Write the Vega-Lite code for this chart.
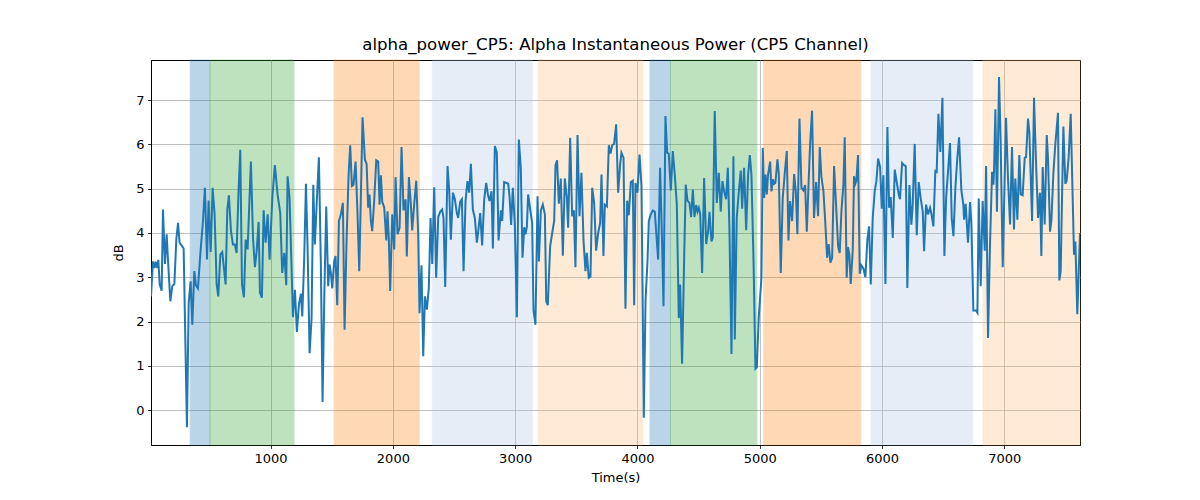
{
  "$schema": "https://vega.github.io/schema/vega-lite/v6.json",
  "width": 929,
  "height": 385,
  "autosize": {"type": "none"},
  "padding": {"left": 151, "top": 60, "right": 120, "bottom": 55},
  "background": "white",
  "title": {"text": "alpha_power_CP5: Alpha Instantaneous Power (CP5 Channel)", "font": "DejaVu Sans", "fontSize": 16.6, "fontWeight": "normal", "color": "black", "offset": 6},
  "config": {
    "view": {"stroke": "black", "strokeWidth": 1},
    "axis": {
      "labelFont": "DejaVu Sans", "labelFontSize": 13, "labelColor": "black",
      "titleFont": "DejaVu Sans", "titleFontSize": 13, "titleFontWeight": "normal", "titleColor": "black",
      "domainColor": "black", "domainWidth": 1, "tickColor": "black", "tickSize": 3.5, "tickWidth": 0.8, "labelPadding": 3.5,
      "grid": true, "gridColor": "#b0b0b0", "gridWidth": 0.8, "zindex": 1
    }
  },
  "datasets": {
    "bands": [
      {"start": 343, "end": 504, "kind": "blue"},
      {"start": 504, "end": 1191, "kind": "green"},
      {"start": 1520, "end": 2215, "kind": "orange"},
      {"start": 2322, "end": 3139, "kind": "lightblue"},
      {"start": 3188, "end": 4044, "kind": "lightorange"},
      {"start": 4103, "end": 4270, "kind": "blue"},
      {"start": 4270, "end": 4976, "kind": "green"},
      {"start": 5033, "end": 5826, "kind": "orange"},
      {"start": 5911, "end": 6742, "kind": "lightblue"},
      {"start": 6826, "end": 7619, "kind": "lightorange"}
    ],
    "power": [
      {"t":22,"db":2.57},{"t":38,"db":3.36},{"t":49,"db":3.21},{"t":60,"db":3.35},{"t":71,"db":3.21},{"t":82,"db":3.39},{"t":93,"db":2.84},{"t":109,"db":2.70},{"t":120,"db":4.53},{"t":136,"db":3.30},{"t":150,"db":3.97},{"t":163,"db":3.29},{"t":180,"db":2.46},{"t":196,"db":2.80},{"t":213,"db":2.85},{"t":229,"db":3.85},{"t":243,"db":4.23},{"t":256,"db":3.78},{"t":272,"db":3.72},{"t":289,"db":3.65},{"t":316,"db":-0.38},{"t":330,"db":2.42},{"t":346,"db":2.91},{"t":360,"db":1.93},{"t":376,"db":3.14},{"t":390,"db":2.82},{"t":406,"db":2.75},{"t":425,"db":3.51},{"t":447,"db":4.27},{"t":463,"db":5.02},{"t":480,"db":3.40},{"t":493,"db":4.73},{"t":510,"db":3.57},{"t":526,"db":5.02},{"t":542,"db":4.42},{"t":559,"db":2.84},{"t":572,"db":2.57},{"t":589,"db":3.51},{"t":605,"db":3.57},{"t":632,"db":2.84},{"t":646,"db":4.53},{"t":659,"db":4.85},{"t":676,"db":4.04},{"t":692,"db":3.74},{"t":708,"db":3.74},{"t":722,"db":3.55},{"t":736,"db":4.79},{"t":752,"db":5.88},{"t":766,"db":2.84},{"t":782,"db":2.55},{"t":796,"db":3.85},{"t":812,"db":3.63},{"t":839,"db":5.61},{"t":856,"db":3.89},{"t":872,"db":3.23},{"t":886,"db":3.59},{"t":902,"db":4.25},{"t":913,"db":2.65},{"t":929,"db":2.54},{"t":943,"db":4.51},{"t":959,"db":3.78},{"t":976,"db":4.42},
      {"t":992,"db":3.40},{"t":1014,"db":4.79},{"t":1035,"db":5.53},{"t":1057,"db":4.87},{"t":1079,"db":4.45},{"t":1095,"db":3.10},{"t":1112,"db":3.55},{"t":1128,"db":2.82},{"t":1139,"db":5.28},{"t":1155,"db":4.79},{"t":1183,"db":2.10},{"t":1199,"db":2.72},{"t":1215,"db":1.77},{"t":1232,"db":2.39},{"t":1248,"db":2.63},{"t":1259,"db":2.12},{"t":1275,"db":3.44},{"t":1289,"db":5.11},{"t":1302,"db":3.74},{"t":1319,"db":1.29},{"t":1335,"db":2.08},{"t":1349,"db":5.09},{"t":1362,"db":3.74},{"t":1379,"db":4.79},{"t":1395,"db":5.71},{"t":1411,"db":3.29},{"t":1425,"db":0.19},{"t":1439,"db":2.54},{"t":1455,"db":4.60},{"t":1471,"db":2.80},{"t":1482,"db":3.29},{"t":1493,"db":3.10},{"t":1504,"db":2.75},{"t":1520,"db":3.36},{"t":1531,"db":3.48},{"t":1545,"db":2.37},{"t":1559,"db":4.27},{"t":1575,"db":4.42},{"t":1591,"db":4.68},{"t":1605,"db":1.82},{"t":1621,"db":3.81},{"t":1638,"db":5.32},{"t":1651,"db":5.98},{"t":1665,"db":5.06},{"t":1678,"db":5.09},{"t":1695,"db":5.61},{"t":1711,"db":4.42},{"t":1725,"db":3.14},{"t":1738,"db":4.79},{"t":1752,"db":6.61},{"t":1771,"db":5.66},{"t":1785,"db":5.56},{"t":1798,"db":4.57},{"t":1809,"db":4.87},{"t":1820,"db":4.27},{"t":1831,"db":4.04},{"t":1847,"db":4.72},{"t":1864,"db":5.64},{"t":1880,"db":5.61},{"t":1891,"db":4.64},{"t":1902,"db":5.30},{"t":1913,"db":4.70},{"t":1929,"db":4.58},
      {"t":1946,"db":3.83},{"t":1956,"db":4.49},{"t":1967,"db":3.85},{"t":1978,"db":2.69},{"t":1995,"db":4.42},{"t":2011,"db":3.63},{"t":2022,"db":5.26},{"t":2038,"db":3.97},{"t":2055,"db":4.12},{"t":2071,"db":5.94},{"t":2087,"db":4.51},{"t":2104,"db":4.76},{"t":2114,"db":3.47},{"t":2131,"db":5.26},{"t":2147,"db":4.64},{"t":2158,"db":4.06},{"t":2174,"db":4.64},{"t":2191,"db":5.18},{"t":2207,"db":3.97},{"t":2218,"db":2.19},{"t":2234,"db":3.27},{"t":2248,"db":1.22},{"t":2262,"db":2.57},{"t":2278,"db":2.27},{"t":2294,"db":2.76},{"t":2308,"db":4.34},{"t":2322,"db":3.30},{"t":2338,"db":5.03},{"t":2354,"db":2.99},{"t":2371,"db":4.36},{"t":2387,"db":4.48},{"t":2403,"db":4.53},{"t":2414,"db":4.34},{"t":2428,"db":2.78},{"t":2447,"db":5.51},{"t":2461,"db":4.94},{"t":2474,"db":3.85},{"t":2491,"db":4.91},{"t":2507,"db":4.76},{"t":2523,"db":4.45},{"t":2534,"db":4.34},{"t":2550,"db":4.70},{"t":2564,"db":4.76},{"t":2578,"db":3.14},{"t":2594,"db":4.72},{"t":2610,"db":5.17},{"t":2624,"db":4.91},{"t":2638,"db":5.56},{"t":2654,"db":4.53},{"t":2670,"db":4.34},{"t":2687,"db":3.78},{"t":2698,"db":4.04},{"t":2714,"db":4.45},{"t":2730,"db":3.72},{"t":2747,"db":4.76},{"t":2763,"db":5.13},{"t":2777,"db":4.87},{"t":2790,"db":4.72},{"t":2807,"db":4.94},{"t":2818,"db":3.65},{"t":2834,"db":5.96},{"t":2850,"db":5.81},{"t":2864,"db":3.83},
      {"t":2883,"db":4.51},{"t":2894,"db":4.27},{"t":2910,"db":5.15},{"t":2927,"db":5.13},{"t":2943,"db":5.11},{"t":2954,"db":4.83},{"t":2967,"db":4.18},{"t":2981,"db":5.02},{"t":2997,"db":4.19},{"t":3014,"db":2.10},{"t":3030,"db":6.11},{"t":3046,"db":5.47},{"t":3060,"db":3.44},{"t":3074,"db":4.13},{"t":3085,"db":3.97},{"t":3096,"db":4.15},{"t":3106,"db":4.87},{"t":3123,"db":4.53},{"t":3139,"db":4.23},{"t":3150,"db":2.25},{"t":3166,"db":1.93},{"t":3183,"db":4.83},{"t":3194,"db":3.36},{"t":3210,"db":4.51},{"t":3226,"db":4.64},{"t":3243,"db":4.42},{"t":3254,"db":2.46},{"t":3267,"db":2.37},{"t":3286,"db":3.70},{"t":3303,"db":4.00},{"t":3319,"db":4.27},{"t":3330,"db":5.53},{"t":3343,"db":5.64},{"t":3357,"db":4.66},{"t":3373,"db":5.23},{"t":3390,"db":3.49},{"t":3406,"db":5.23},{"t":3423,"db":4.79},{"t":3433,"db":4.12},{"t":3450,"db":6.15},{"t":3466,"db":4.38},{"t":3480,"db":4.51},{"t":3493,"db":3.23},{"t":3510,"db":6.21},{"t":3526,"db":4.38},{"t":3542,"db":5.36},{"t":3559,"db":3.83},{"t":3575,"db":3.14},{"t":3586,"db":3.55},{"t":3602,"db":2.99},{"t":3616,"db":3.02},{"t":3630,"db":5.02},{"t":3646,"db":4.68},{"t":3662,"db":3.60},{"t":3679,"db":4.00},{"t":3695,"db":4.23},{"t":3706,"db":5.32},{"t":3722,"db":3.48},{"t":3733,"db":4.64},{"t":3750,"db":4.60},{"t":3766,"db":5.98},{"t":3780,"db":5.79},{"t":3793,"db":5.98},
      {"t":3809,"db":6.01},{"t":3826,"db":6.45},{"t":3842,"db":4.91},{"t":3859,"db":5.56},{"t":3869,"db":5.81},{"t":3886,"db":5.70},{"t":3902,"db":2.29},{"t":3916,"db":4.73},{"t":3929,"db":4.40},{"t":3946,"db":5.15},{"t":3962,"db":5.18},{"t":3973,"db":2.37},{"t":3984,"db":5.13},{"t":4000,"db":4.91},{"t":4017,"db":5.77},{"t":4033,"db":5.06},{"t":4052,"db":-0.17},{"t":4066,"db":2.46},{"t":4082,"db":3.36},{"t":4093,"db":4.27},{"t":4109,"db":4.42},{"t":4126,"db":4.51},{"t":4142,"db":4.48},{"t":4169,"db":3.40},{"t":4185,"db":5.47},{"t":4202,"db":3.74},{"t":4213,"db":2.35},{"t":4229,"db":6.64},{"t":4243,"db":5.81},{"t":4256,"db":5.79},{"t":4273,"db":4.96},{"t":4289,"db":5.85},{"t":4305,"db":5.32},{"t":4322,"db":4.64},{"t":4338,"db":2.08},{"t":4349,"db":2.84},{"t":4365,"db":1.05},{"t":4382,"db":3.44},{"t":4395,"db":5.09},{"t":4409,"db":4.73},{"t":4425,"db":4.68},{"t":4439,"db":4.36},{"t":4453,"db":4.98},{"t":4466,"db":4.36},{"t":4480,"db":4.63},{"t":4491,"db":4.48},{"t":4502,"db":4.57},{"t":4513,"db":4.43},{"t":4529,"db":3.10},{"t":4545,"db":5.24},{"t":4562,"db":3.75},{"t":4578,"db":4.04},{"t":4589,"db":4.48},{"t":4605,"db":3.81},{"t":4616,"db":3.89},{"t":4632,"db":6.75},{"t":4649,"db":4.68},{"t":4665,"db":5.36},{"t":4681,"db":4.48},{"t":4695,"db":5.17},{"t":4709,"db":4.94},{"t":4725,"db":4.76},{"t":4739,"db":5.47},{"t":4752,"db":4.12},{"t":4769,"db":1.27},
      {"t":4785,"db":5.73},{"t":4796,"db":1.60},{"t":4812,"db":4.34},{"t":4829,"db":4.94},{"t":4845,"db":5.41},{"t":4856,"db":4.55},{"t":4872,"db":5.47},{"t":4889,"db":4.06},{"t":4905,"db":5.32},{"t":4919,"db":5.76},{"t":4932,"db":5.32},{"t":4949,"db":3.40},{"t":4965,"db":0.94},{"t":4976,"db":0.97},{"t":4992,"db":2.10},{"t":5014,"db":2.99},{"t":5025,"db":5.92},{"t":5036,"db":4.79},{"t":5047,"db":5.32},{"t":5058,"db":4.87},{"t":5068,"db":5.32},{"t":5085,"db":5.61},{"t":5096,"db":4.94},{"t":5107,"db":5.21},{"t":5117,"db":5.11},{"t":5128,"db":5.13},{"t":5145,"db":5.66},{"t":5156,"db":5.33},{"t":5172,"db":3.10},{"t":5188,"db":4.79},{"t":5205,"db":5.36},{"t":5221,"db":5.85},{"t":5235,"db":3.83},{"t":5248,"db":4.72},{"t":5265,"db":4.27},{"t":5281,"db":5.33},{"t":5295,"db":4.94},{"t":5308,"db":3.97},{"t":5325,"db":6.58},{"t":5341,"db":5.02},{"t":5357,"db":4.96},{"t":5371,"db":5.08},{"t":5385,"db":4.03},{"t":5401,"db":5.24},{"t":5412,"db":6.01},{"t":5428,"db":6.76},{"t":5444,"db":4.34},{"t":5461,"db":5.15},{"t":5477,"db":4.38},{"t":5491,"db":5.94},{"t":5504,"db":5.28},{"t":5521,"db":4.94},{"t":5537,"db":4.19},{"t":5551,"db":3.44},{"t":5564,"db":3.75},{"t":5578,"db":3.33},{"t":5592,"db":3.44},{"t":5608,"db":5.51},{"t":5624,"db":4.64},{"t":5641,"db":3.70},{"t":5654,"db":3.55},{"t":5668,"db":4.49},{"t":5684,"db":5.09},{"t":5695,"db":6.16},
      {"t":5711,"db":2.99},{"t":5722,"db":3.68},{"t":5733,"db":3.51},{"t":5744,"db":2.85},{"t":5761,"db":3.63},{"t":5771,"db":5.28},{"t":5782,"db":5.11},{"t":5790,"db":5.17},{"t":5804,"db":5.76},{"t":5818,"db":3.08},{"t":5831,"db":3.27},{"t":5848,"db":3.20},{"t":5864,"db":3.00},{"t":5880,"db":3.85},{"t":5894,"db":4.15},{"t":5908,"db":2.84},{"t":5924,"db":4.34},{"t":5940,"db":4.94},{"t":5954,"db":5.17},{"t":5968,"db":5.68},{"t":5984,"db":5.49},{"t":5998,"db":4.55},{"t":6011,"db":5.30},{"t":6028,"db":2.85},{"t":6044,"db":6.39},{"t":6058,"db":4.57},{"t":6071,"db":4.81},{"t":6088,"db":3.89},{"t":6104,"db":5.43},{"t":6120,"db":5.15},{"t":6137,"db":4.87},{"t":6147,"db":4.76},{"t":6164,"db":5.58},{"t":6180,"db":5.53},{"t":6194,"db":5.51},{"t":6207,"db":2.76},{"t":6224,"db":5.08},{"t":6240,"db":4.19},{"t":6251,"db":4.64},{"t":6267,"db":6.01},{"t":6284,"db":3.95},{"t":6300,"db":5.15},{"t":6316,"db":4.79},{"t":6333,"db":4.48},{"t":6344,"db":3.59},{"t":6360,"db":4.64},{"t":6376,"db":4.42},{"t":6393,"db":4.57},{"t":6404,"db":4.43},{"t":6420,"db":4.15},{"t":6436,"db":5.40},{"t":6447,"db":5.38},{"t":6461,"db":6.69},{"t":6477,"db":5.83},{"t":6494,"db":7.05},{"t":6510,"db":3.48},{"t":6524,"db":4.79},{"t":6540,"db":5.40},{"t":6556,"db":6.03},{"t":6570,"db":4.33},{"t":6584,"db":3.93},{"t":6600,"db":5.02},{"t":6616,"db":5.70},{"t":6630,"db":6.16},
      {"t":6649,"db":4.96},{"t":6665,"db":4.64},{"t":6671,"db":4.30},{"t":6684,"db":4.66},{"t":6703,"db":3.78},{"t":6720,"db":4.70},{"t":6731,"db":4.19},{"t":6747,"db":2.25},{"t":6769,"db":2.25},{"t":6780,"db":2.20},{"t":6791,"db":4.78},{"t":6807,"db":2.80},{"t":6823,"db":4.72},{"t":6840,"db":3.60},{"t":6851,"db":5.51},{"t":6867,"db":1.63},{"t":6883,"db":3.74},{"t":6900,"db":5.38},{"t":6911,"db":5.09},{"t":6916,"db":5.40},{"t":6927,"db":6.79},{"t":6940,"db":4.48},{"t":6957,"db":7.52},{"t":6970,"db":6.07},{"t":6987,"db":3.23},{"t":7014,"db":6.60},{"t":7030,"db":5.24},{"t":7047,"db":4.19},{"t":7063,"db":5.94},{"t":7079,"db":4.08},{"t":7090,"db":5.23},{"t":7107,"db":4.30},{"t":7123,"db":5.76},{"t":7134,"db":4.87},{"t":7150,"db":4.85},{"t":7167,"db":5.70},{"t":7178,"db":5.71},{"t":7194,"db":6.58},{"t":7205,"db":6.26},{"t":7227,"db":4.27},{"t":7243,"db":7.05},{"t":7259,"db":5.62},{"t":7276,"db":4.34},{"t":7292,"db":4.91},{"t":7303,"db":3.48},{"t":7314,"db":5.49},{"t":7330,"db":4.19},{"t":7347,"db":6.21},{"t":7357,"db":5.71},{"t":7374,"db":4.03},{"t":7385,"db":4.27},{"t":7401,"db":5.33},{"t":7417,"db":6.00},{"t":7439,"db":6.71},{"t":7450,"db":2.93},{"t":7461,"db":3.14},{"t":7483,"db":6.40},{"t":7499,"db":5.11},{"t":7510,"db":5.18},{"t":7526,"db":5.70},{"t":7543,"db":6.69},{"t":7570,"db":3.51},{"t":7581,"db":3.81},{"t":7597,"db":2.17},{"t":7619,"db":4.00}
    ]
  },
  "layer": [
    {
      "data": {"name": "bands"},
      "mark": {"type": "rect", "opacity": 0.3, "strokeWidth": 1},
      "encoding": {
        "x": {"field": "start", "type": "quantitative", "title": "Time(s)", "scale": {"domain": [22, 7619], "nice": false, "zero": false}},
        "x2": {"field": "end"},
        "color": {"field": "kind", "type": "nominal", "legend": null,
          "scale": {"domain": ["blue", "green", "orange", "lightblue", "lightorange"], "range": ["#1f77b4", "#2ca02c", "#ff7f0e", "#aec7e8", "#ffbb78"]}},
        "stroke": {"field": "kind", "type": "nominal", "legend": null,
          "scale": {"domain": ["blue", "green", "orange", "lightblue", "lightorange"], "range": ["#1f77b4", "#2ca02c", "#ff7f0e", "#aec7e8", "#ffbb78"]}}
      }
    },
    {
      "data": {"name": "power"},
      "mark": {"type": "line", "color": "#1f77b4", "strokeWidth": 2, "clip": true},
      "encoding": {
        "x": {"field": "t", "type": "quantitative", "title": "Time(s)",
          "scale": {"domain": [22, 7619], "nice": false, "zero": false},
          "axis": {"values": [1000, 2000, 3000, 4000, 5000, 6000, 7000], "format": "d", "titlePadding": 6}},
        "y": {"field": "db", "type": "quantitative", "title": "dB",
          "scale": {"domain": [-0.783, 7.903], "nice": false, "zero": false},
          "axis": {"values": [0, 1, 2, 3, 4, 5, 6, 7], "format": "d", "titlePadding": 10}}
      }
    }
  ]
}
